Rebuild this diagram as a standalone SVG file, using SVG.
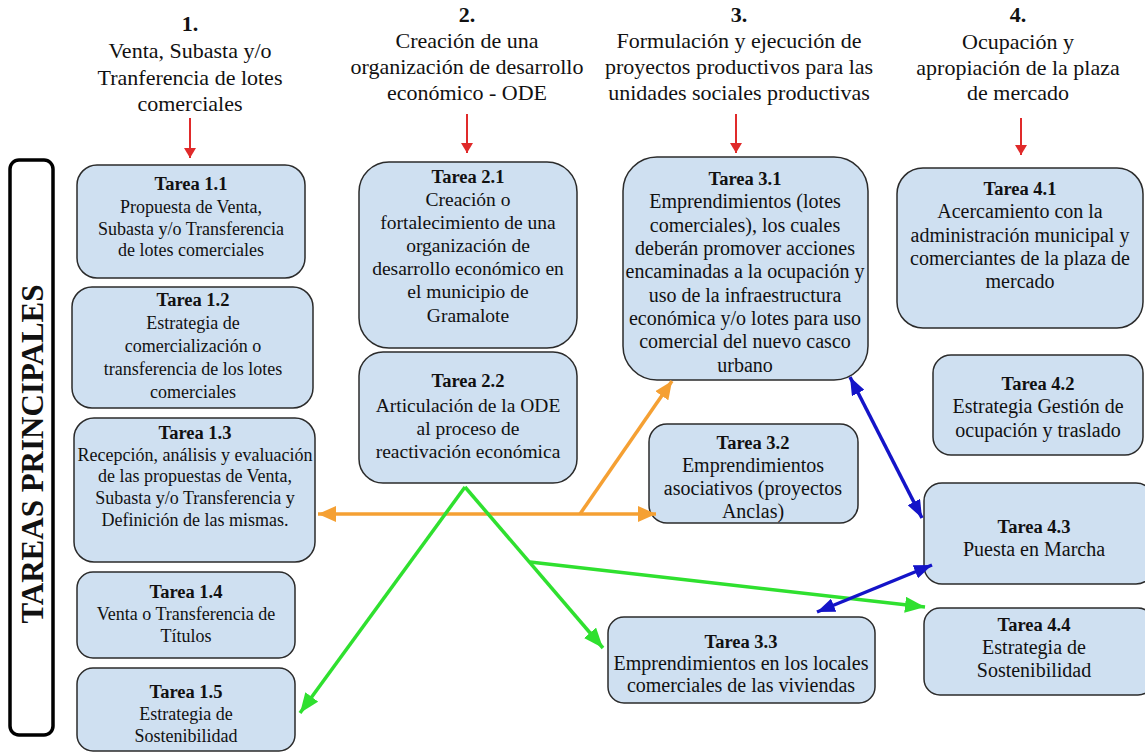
<svg xmlns="http://www.w3.org/2000/svg" width="1145" height="753" viewBox="0 0 1145 753">
<style>
  .hd{font-family:"Liberation Serif","Times New Roman",serif;font-size:22px;fill:#111;text-anchor:middle}
  .hn{font-weight:bold}
  .box{fill:#cfe0f1;stroke:#2b2b2b;stroke-width:1.5}
  .t{font-family:"Liberation Serif","Times New Roman",serif;fill:#111;text-anchor:middle}
  .ti{font-weight:bold;font-size:18.5px}
  .s18{font-size:18px}
  .s19{font-size:19.5px}
  .s20{font-size:20px}
  .red{stroke:#e02a2a;stroke-width:2;fill:none}
  .org{stroke:#f5a033;stroke-width:3.5;fill:none}
  .grn{stroke:#2fe02f;stroke-width:3.5;fill:none}
  .blu{stroke:#1414c8;stroke-width:3.5;fill:none}
</style>
<defs>
  <marker id="mr" viewBox="0 0 10 12" refX="10" refY="6" markerWidth="10" markerHeight="12" markerUnits="userSpaceOnUse" orient="auto"><path d="M0,0 L10,6 L0,12 z" fill="#e02a2a"/></marker>
  <marker id="mo" viewBox="0 0 18 16" refX="18" refY="8" markerWidth="18" markerHeight="16" markerUnits="userSpaceOnUse" orient="auto-start-reverse"><path d="M0,0 L18,8 L0,16 z" fill="#f5a033"/></marker>
  <marker id="mg" viewBox="0 0 20 16" refX="20" refY="8" markerWidth="20" markerHeight="16" markerUnits="userSpaceOnUse" orient="auto"><path d="M0,0 L20,8 L0,16 z" fill="#2fe02f"/></marker>
  <marker id="mb" viewBox="0 0 18 14" refX="18" refY="7" markerWidth="18" markerHeight="14" markerUnits="userSpaceOnUse" orient="auto-start-reverse"><path d="M0,0 L18,7 L0,14 z" fill="#1414c8"/></marker>
</defs>
<rect width="1145" height="753" fill="#ffffff"/>

<g id="headers">
  <text class="hd hn" x="190" y="31">1.</text>
  <text class="hd" x="190" y="58">Venta, Subasta y/o</text>
  <text class="hd" x="190" y="85">Tranferencia de lotes</text>
  <text class="hd" x="190" y="111">comerciales</text>
  <text class="hd hn" x="467" y="22">2.</text>
  <text class="hd" x="467" y="48">Creación de una</text>
  <text class="hd" x="467" y="74">organización de desarrollo</text>
  <text class="hd" x="467" y="100">económico - ODE</text>
  <text class="hd hn" x="739" y="22">3.</text>
  <text class="hd" x="739" y="48">Formulación y ejecución de</text>
  <text class="hd" x="739" y="74">proyectos productivos para las</text>
  <text class="hd" x="739" y="100">unidades sociales productivas</text>
  <text class="hd hn" x="1018" y="22">4.</text>
  <text class="hd" x="1018" y="49">Ocupación y</text>
  <text class="hd" x="1018" y="75">apropiación de la plaza</text>
  <text class="hd" x="1018" y="100">de mercado</text>
</g>

<g id="side-label">
  <rect x="10" y="160" width="43" height="575" rx="9" fill="none" stroke="#000" stroke-width="3.5"/>
  <text transform="translate(43,454) rotate(-90)" text-anchor="middle" font-family="Liberation Serif, Times New Roman, serif" font-weight="bold" font-size="31" fill="#111">TAREAS PRINCIPALES</text>
</g>

<g id="t11"><rect class="box" x="77" y="165" width="228" height="113" rx="20"/>
  <text class="t ti" x="191" y="190">Tarea 1.1</text>
  <text class="t s18" x="191" y="213">Propuesta de Venta,</text>
  <text class="t s18" x="191" y="235">Subasta y/o Transferencia</text>
  <text class="t s18" x="191" y="256">de lotes comerciales</text></g>
<g id="t12"><rect class="box" x="72" y="287" width="241" height="121" rx="20"/>
  <text class="t ti" x="193" y="306">Tarea 1.2</text>
  <text class="t s18" x="193" y="329">Estrategia de</text>
  <text class="t s18" x="193" y="352">comercialización o</text>
  <text class="t s18" x="193" y="375">transferencia de los lotes</text>
  <text class="t s18" x="193" y="398">comerciales</text></g>
<g id="t13"><rect class="box" x="74" y="418" width="241" height="144" rx="20"/>
  <text class="t ti" x="195" y="439">Tarea 1.3</text>
  <text class="t s18" x="195" y="461">Recepción, análisis y evaluación</text>
  <text class="t s18" x="195" y="482">de las propuestas de Venta,</text>
  <text class="t s18" x="195" y="504">Subasta y/o Transferencia y</text>
  <text class="t s18" x="195" y="526">Definición de las mismas.</text></g>
<g id="t14"><rect class="box" x="77" y="572" width="218" height="86" rx="16"/>
  <text class="t ti" x="186" y="598">Tarea 1.4</text>
  <text class="t s18" x="186" y="620">Venta o Transferencia de</text>
  <text class="t s18" x="186" y="642">Títulos</text></g>
<g id="t15"><rect class="box" x="77" y="668" width="218" height="83" rx="16"/>
  <text class="t ti" x="186" y="698">Tarea 1.5</text>
  <text class="t s18" x="186" y="720">Estrategia de</text>
  <text class="t s18" x="186" y="742">Sostenibilidad</text></g>

<g id="t21"><rect class="box" x="359" y="162" width="218" height="186" rx="30"/>
  <text class="t ti" x="468" y="183">Tarea 2.1</text>
  <text class="t s19" x="468" y="206">Creación o</text>
  <text class="t s19" x="468" y="229">fortalecimiento de  una</text>
  <text class="t s19" x="468" y="252">organización de</text>
  <text class="t s19" x="468" y="275">desarrollo económico en</text>
  <text class="t s19" x="468" y="298">el municipio de</text>
  <text class="t s19" x="468" y="322">Gramalote</text></g>
<g id="t22"><rect class="box" x="359" y="352" width="218" height="131" rx="24"/>
  <text class="t ti" x="468" y="387">Tarea 2.2</text>
  <text class="t s19" x="468" y="412">Articulación de la ODE</text>
  <text class="t s19" x="468" y="435">al proceso de</text>
  <text class="t s19" x="468" y="458">reactivación económica</text></g>

<g id="t31"><rect class="box" x="623" y="157" width="245" height="223" rx="34"/>
  <text class="t ti" x="745" y="185">Tarea 3.1</text>
  <text class="t s20" x="745" y="208">Emprendimientos (lotes</text>
  <text class="t s20" x="745" y="232">comerciales), los cuales</text>
  <text class="t s20" x="745" y="255">deberán promover acciones</text>
  <text class="t s20" x="745" y="278">encaminadas a la ocupación y</text>
  <text class="t s20" x="745" y="302">uso de la infraestructura</text>
  <text class="t s20" x="745" y="325">económica y/o lotes para uso</text>
  <text class="t s20" x="745" y="348">comercial del nuevo casco</text>
  <text class="t s20" x="745" y="372">urbano</text></g>
<g id="t32"><rect class="box" x="649" y="424" width="209" height="99" rx="18"/>
  <text class="t ti" x="753" y="449">Tarea 3.2</text>
  <text class="t s20" x="753" y="472">Emprendimientos</text>
  <text class="t s20" x="753" y="495">asociativos (proyectos</text>
  <text class="t s20" x="753" y="518">Anclas)</text></g>
<g id="t33"><rect class="box" x="608" y="617" width="267" height="86" rx="16"/>
  <text class="t ti" x="741" y="648">Tarea 3.3</text>
  <text class="t s20" x="741" y="670">Emprendimientos en los locales</text>
  <text class="t s20" x="741" y="692">comerciales de las viviendas</text></g>

<g id="t41"><rect class="box" x="897" y="168" width="246" height="160" rx="26"/>
  <text class="t ti" x="1020" y="195">Tarea 4.1</text>
  <text class="t s20" x="1020" y="218">Acercamiento con la</text>
  <text class="t s20" x="1020" y="242">administración municipal y</text>
  <text class="t s20" x="1020" y="265">comerciantes de la plaza de</text>
  <text class="t s20" x="1020" y="288">mercado</text></g>
<g id="t42"><rect class="box" x="933" y="355" width="210" height="100" rx="18"/>
  <text class="t ti" x="1038" y="390">Tarea 4.2</text>
  <text class="t s20" x="1038" y="413">Estrategia Gestión de</text>
  <text class="t s20" x="1038" y="437">ocupación y  traslado</text></g>
<g id="t43"><rect class="box" x="924" y="483" width="230" height="101" rx="18"/>
  <text class="t ti" x="1034" y="533">Tarea 4.3</text>
  <text class="t s20" x="1034" y="556">Puesta en Marcha</text></g>
<g id="t44"><rect class="box" x="924" y="608" width="230" height="87" rx="16"/>
  <text class="t ti" x="1034" y="631">Tarea 4.4</text>
  <text class="t s20" x="1034" y="654">Estrategia de</text>
  <text class="t s20" x="1034" y="677">Sostenibilidad</text></g>

<g id="connectors">
  <line class="red" x1="190" y1="118" x2="190" y2="158" marker-end="url(#mr)"/>
  <line class="red" x1="467" y1="114" x2="467" y2="153" marker-end="url(#mr)"/>
  <line class="red" x1="736" y1="114" x2="736" y2="153" marker-end="url(#mr)"/>
  <line class="red" x1="1021" y1="118" x2="1021" y2="155" marker-end="url(#mr)"/>

  <line class="org" x1="318" y1="514" x2="656" y2="514" marker-start="url(#mo)" marker-end="url(#mo)"/>
  <line class="org" x1="580" y1="514" x2="672" y2="381" marker-end="url(#mo)"/>

  <line class="grn" x1="465" y1="487" x2="603" y2="648" marker-end="url(#mg)"/>
  <line class="grn" x1="465" y1="487" x2="300" y2="713" marker-end="url(#mg)"/>
  <line class="grn" x1="530" y1="562" x2="925" y2="607" marker-end="url(#mg)"/>

  <line class="blu" x1="850" y1="377" x2="922" y2="518" marker-start="url(#mb)" marker-end="url(#mb)"/>
  <line class="blu" x1="817" y1="612" x2="932" y2="565" marker-start="url(#mb)" marker-end="url(#mb)"/>
</g>
</svg>
